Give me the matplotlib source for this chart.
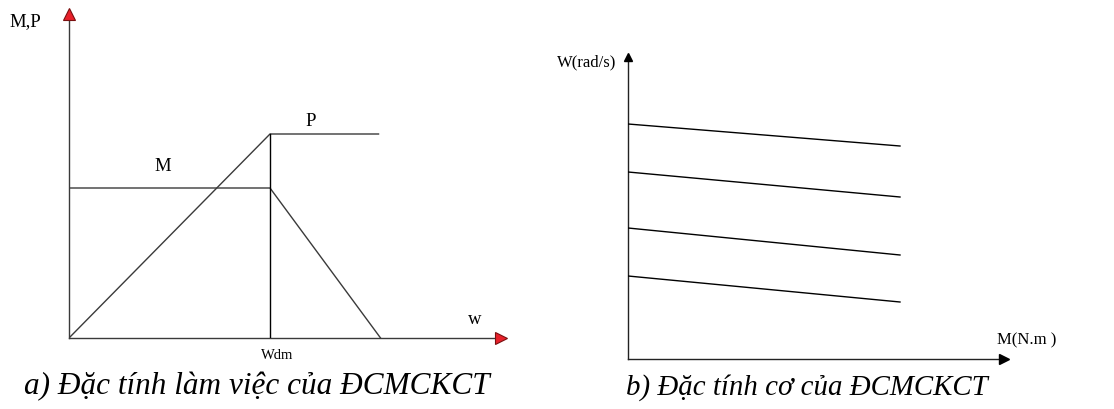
import matplotlib
matplotlib.use("Agg")
import matplotlib.pyplot as plt

plt.rcParams["font.family"] = ["Liberation Serif", "DejaVu Serif"]

W, H = 1114, 410

# ---- panel a) working characteristic ----
w_dm = 1.0
p_end = 1.54
m_zero = 1.55
m_rated = 1.0
p_max = 1.36
a_axis_end = 2.18

p_w = [0, w_dm, p_end]
p_val = [0, p_max, p_max]
m_w = [0, w_dm, m_zero]
m_val = [m_rated, m_rated, 0]

# ---- panel b) mechanical characteristic ----
torque = [0, 1.0]
speed_lines = [
    [2.35, 2.13],
    [1.87, 1.62],
    [1.31, 1.04],
    [0.83, 0.57],
]
b_x_end = 1.404
b_y_end = 3.05


def px_axes(fig, left, top, right, bottom):
    return fig.add_axes([left / W, (H - bottom) / H, (right - left) / W, (bottom - top) / H])


fig = plt.figure(figsize=(W / 100, H / 100), dpi=100)

#==================== LEFT ====================
ax = px_axes(fig, 69, 5, 520, 339)
ax.set_xlim(0, 451 / 201)
ax.set_ylim(0, 334 / 150)
ax.axis("off")

axis_c = "#3a3a3a"
ax.plot([0, a_axis_end - 0.03], [0, 0], color=axis_c, lw=1.0, clip_on=False)
ax.plot([0, 0], [0, a_axis_end - 0.03], color=axis_c, lw=1.0, clip_on=False)
ax.plot([a_axis_end - 0.03], [0], marker=">", ms=9, color="#e8202a", mec="#7a1010", mew=0.8, clip_on=False)
ax.plot([0], [a_axis_end - 0.02], marker="^", ms=9, color="#e8202a", mec="#7a1010", mew=0.8, clip_on=False)

ax.plot(p_w, p_val, color=axis_c, lw=1.0)
ax.plot(m_w, m_val, color=axis_c, lw=1.0)
ax.plot([w_dm, w_dm], [0, p_max], color="black", lw=1.0)

ax.text(-0.219, 2.113, "M,P", fontsize=13.5, ha="center", va="center")
ax.text(1.204, 1.447, "P", fontsize=13.5, ha="center", va="center")
ax.text(0.468, 1.147, "M", fontsize=13.5, ha="center", va="center")
ax.text(2.02, 0.133, "w", fontsize=13.5, ha="center", va="center")
ax.text(1.035, -0.107, "Wdm", fontsize=10.5, ha="center", va="center")

#==================== RIGHT ====================
bx = px_axes(fig, 628, 40, 1100, 360)
bx.set_xlim(0, 472 / 272)
bx.set_ylim(0, 3.2)
bx.axis("off")

bx.plot([0, b_x_end - 0.02], [0, 0], color="#222222", lw=1.0, clip_on=False)
bx.plot([0, 0], [0, b_y_end - 0.03], color="#222222", lw=1.0, clip_on=False)
bx.plot([b_x_end - 0.02], [0], marker=">", ms=7, color="black", clip_on=False)
bx.plot([0], [b_y_end - 0.03], marker="^", ms=6, color="black", clip_on=False)

for ys in speed_lines:
    bx.plot(torque, ys, color="black", lw=1.0)

bx.text(-0.151, 2.98, "W(rad/s)", fontsize=12, ha="center", va="center")
bx.text(1.467, 0.20, "M(N.m )", fontsize=12, ha="center", va="center")

#==================== CAPTIONS ====================
fig.text(257 / W, 1 - 387 / H, "a) Đặc tính làm việc của ĐCMCKCT", fontsize=22.5, style="italic",
         ha="center", va="center")
fig.text(807 / W, 1 - 388 / H, "b) Đặc tính cơ của ĐCMCKCT", fontsize=20.8, style="italic",
         ha="center", va="center")

fig.savefig("out.png", dpi=100)
